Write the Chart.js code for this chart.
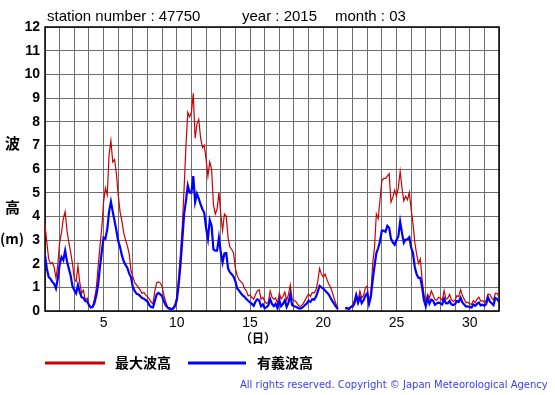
<!DOCTYPE html>
<html>
<head>
<meta charset="utf-8">
<script src="https://cdn.jsdelivr.net/npm/chart.js@4.4.1/dist/chart.umd.min.js"></script>
<style>
  html, body { margin: 0; padding: 0; background: #fff; }
  #wrap { width: 555px; height: 395px; }
</style>
</head>
<body>
<div id="wrap"><canvas id="wave-chart" width="555" height="395"></canvas></div>
<script>
// 3-hourly readings, starting at day 1 00:00, March 2015
const startDay = 1;
const stepsPerDay = 8;

const maxWave = [
  3.65, 2.9, 2.2, 2.0, 2.05, 1.85, 1.4, 1.95,
  2.9, 3.3, 3.9, 4.2, 3.4, 2.9, 2.5, 2.0,
  1.35, 1.25, 1.9, 1.2, 0.75, 0.88, 0.45, 0.55,
  0.25, 0.15, 0.2, 0.5, 0.95, 1.85, 2.7, 3.5,
  4.6, 5.2, 4.9, 6.6, 7.2, 6.3, 6.4, 5.8,
  4.9, 4.2, 3.8, 3.3, 3.0, 2.75, 2.4, 1.7,
  1.45, 1.2, 1.1, 1.0, 0.88, 0.75, 0.78, 0.68,
  0.6, 0.5, 0.38, 0.3, 0.85, 1.2, 1.23, 1.18,
  1.02, 0.65, 0.38, 0.17, 0.14, 0.1, 0.16, 0.28,
  0.6, 1.45, 2.45, 3.6, 5.2, 7.0, 8.4, 8.2,
  8.4, 9.2, 7.3, 7.9, 8.1, 7.3, 6.9, 7.0,
  6.4, 5.7, 6.3, 6.0, 4.5, 4.1, 4.3, 5.0,
  4.1, 3.4, 4.1, 4.0, 3.1, 2.7, 2.6, 2.45,
  1.8, 1.5, 1.32, 1.24, 1.16, 0.95, 0.85, 0.64,
  0.68, 0.58, 0.5, 0.7, 0.85, 0.9, 0.5, 0.58,
  0.4, 0.32, 0.38, 0.85, 0.58, 0.5, 0.55, 0.33,
  0.75, 0.5, 0.62, 0.8, 0.45, 0.7, 1.1, 0.5,
  0.45, 0.4, 0.28, 0.2, 0.22, 0.3, 0.45, 0.6,
  0.72, 0.62, 0.78, 0.76, 0.88, 1.25, 1.8, 1.55,
  1.44, 1.56, 1.33, 1.14, 1.0, 0.78, 0.52, 0.3,
  0.14, null, null, null, 0.12, 0.15, 0.1, 0.18,
  0.26, 0.45, 0.73, 0.45, 0.85, 0.55, 0.65, 0.98,
  1.05, 0.42, 0.73, 2.0, 2.7, 4.1, 3.9, 4.7,
  5.5, 5.6, 5.6, 5.7, 5.8, 4.6, 4.8, 5.1,
  4.85, 5.2, 5.9, 5.2, 4.65, 4.85, 4.7, 5.0,
  4.3, 3.7, 2.9, 2.4, 2.0, 2.2, 1.35, 0.7,
  0.4, 0.7, 0.55, 0.85, 0.68, 0.48, 0.45, 0.58,
  0.54, 0.45, 0.86, 0.5, 0.54, 0.7, 0.48, 0.4,
  0.46, 0.65, 0.6, 0.9, 0.65, 0.5, 0.35, 0.37,
  0.3, 0.28, 0.44, 0.35, 0.5, 0.58, 0.42, 0.44,
  0.36, 0.45, 0.72, 0.7, 0.55, 0.46, 0.75, 0.74,
  0.6
];

const sigWave = [
  2.36, 1.8, 1.44, 1.36, 1.23, 1.15, 0.95, 1.38,
  1.95, 2.28, 2.15, 2.55, 2.1, 1.8, 1.5, 1.05,
  0.88, 0.75, 1.1, 0.8, 0.58, 0.55, 0.42, 0.4,
  0.26, 0.15, 0.17, 0.33, 0.65, 1.1, 1.85, 2.5,
  3.1, 3.05, 3.45, 4.2, 4.62, 4.2, 3.8, 3.4,
  2.95, 2.7, 2.35, 2.1, 1.95, 1.82, 1.58, 1.42,
  1.0, 0.85, 0.73, 0.7, 0.63, 0.55, 0.52, 0.46,
  0.4, 0.24, 0.17, 0.15, 0.42, 0.7, 0.76, 0.7,
  0.62, 0.4, 0.24, 0.14, 0.1, 0.07, 0.1, 0.2,
  0.45, 1.1, 1.95, 3.0, 4.1, 4.65, 5.3, 5.0,
  5.0, 5.7, 4.6, 4.95, 4.75, 4.5, 4.3, 4.15,
  3.5, 3.05, 3.84, 3.6, 2.6, 2.55, 2.55, 3.1,
  2.5, 2.05, 2.43, 2.45, 1.8, 1.64, 1.55, 1.45,
  1.25, 0.95, 0.86, 0.75, 0.66, 0.6, 0.51, 0.43,
  0.36, 0.3, 0.22, 0.4, 0.5, 0.45, 0.2, 0.28,
  0.12, 0.16, 0.24, 0.5, 0.3, 0.2, 0.3, 0.12,
  0.45, 0.2, 0.3, 0.45, 0.17, 0.35, 0.7, 0.25,
  0.2, 0.18, 0.14, 0.1, 0.12, 0.17, 0.25, 0.32,
  0.44, 0.38, 0.5, 0.48, 0.6, 0.82, 1.06, 1.0,
  0.95, 0.87, 0.78, 0.7, 0.55, 0.42, 0.3, 0.17,
  0.08, null, null, null, 0.1, 0.12, 0.08, 0.17,
  0.18, 0.3, 0.66, 0.35, 0.58, 0.33, 0.45, 0.64,
  0.75, 0.3, 0.6, 1.3, 1.9, 2.45, 2.65, 2.95,
  3.4, 3.4, 3.35, 3.6, 3.52, 3.05, 2.9, 2.8,
  3.0, 3.15, 3.77, 3.3, 2.88, 3.02, 3.03, 3.12,
  2.68, 2.45, 1.86, 1.55, 1.4, 1.4, 1.0, 0.45,
  0.2, 0.55, 0.31, 0.48, 0.43, 0.26, 0.32, 0.36,
  0.32, 0.28, 0.52, 0.33, 0.32, 0.42, 0.28, 0.25,
  0.3, 0.42, 0.38, 0.56, 0.36, 0.27, 0.19, 0.2,
  0.16, 0.15, 0.28, 0.22, 0.3, 0.36, 0.24, 0.27,
  0.22, 0.3, 0.58, 0.4, 0.33, 0.25, 0.55, 0.5,
  0.38
];

const seriesLabels = ['最大波高', '有義波高'];
const dayLabels = [5, 10, 15, 20, 25, 30];

const toPoints = arr => arr.map((v, i) => ({ x: startDay + i / stepsPerDay, y: v }));

const sans = '"Liberation Sans", Arial, sans-serif';
const cjk = '"Noto Sans CJK JP", sans-serif';

// texts and frame around the plot
const decorations = {
  id: 'decorations',
  beforeDatasetsDraw(chart) {
    const { ctx, chartArea: a } = chart;
    ctx.save();
    ctx.strokeStyle = '#000';
    ctx.lineWidth = 1.5;
    ctx.strokeRect(a.left, a.top, a.right - a.left, a.bottom - a.top);
    ctx.restore();
  },
  afterDraw(chart) {
    const { ctx } = chart;
    ctx.save();
    ctx.fillStyle = '#000';
    ctx.textBaseline = 'alphabetic';
    ctx.textAlign = 'left';
    ctx.font = '15px ' + sans;
    ctx.fillText('station number : 47750', 47, 21, 164);
    ctx.fillText('year : 2015', 242, 21, 79);
    ctx.fillText('month : 03', 335, 21, 75);

    ctx.textBaseline = 'middle';
    ctx.font = 'bold 15px ' + cjk;
    ctx.fillText('波', 5, 143);
    ctx.fillText('高', 5, 207);
    ctx.font = 'bold 14px ' + cjk;
    ctx.fillText('(m)', 0, 239);
    ctx.textAlign = 'center';
    ctx.font = 'bold 12px ' + cjk;
    ctx.fillText('（日）', 258, 338);

    // legend
    ctx.textAlign = 'left';
    ctx.lineWidth = 3;
    ctx.strokeStyle = '#cc0000';
    ctx.beginPath(); ctx.moveTo(45, 363); ctx.lineTo(105, 363); ctx.stroke();
    ctx.strokeStyle = '#0000ff';
    ctx.beginPath(); ctx.moveTo(188, 363); ctx.lineTo(246, 363); ctx.stroke();
    ctx.font = 'bold 14px ' + cjk;
    ctx.fillText(seriesLabels[0], 115, 363);
    ctx.fillText(seriesLabels[1], 257, 363);

    ctx.fillStyle = '#3a3aff';
    ctx.font = '10px "DejaVu Sans", sans-serif';
    ctx.fillText('All rights reserved. Copyright \u00a9 Japan Meteorological Agency', 240, 385, 309);
    ctx.restore();
  }
};

const chart = new Chart(document.getElementById('wave-chart').getContext('2d'), {
  type: 'line',
  data: {
    datasets: [
      {
        label: seriesLabels[0],
        data: toPoints(maxWave),
        borderColor: '#cc0000',
        borderWidth: 1.2,
        pointRadius: 0,
        tension: 0,
        spanGaps: false,
        order: 1
      },
      {
        label: seriesLabels[1],
        data: toPoints(sigWave),
        borderColor: '#0000ff',
        borderWidth: 2.2,
        pointRadius: 0,
        tension: 0,
        spanGaps: false,
        order: 0
      }
    ]
  },
  options: {
    responsive: false,
    animation: false,
    events: [],
    layout: { padding: { left: 0, top: 27, right: 56, bottom: 0 } },
    plugins: {
      legend: { display: false },
      tooltip: { enabled: false }
    },
    scales: {
      x: {
        type: 'linear',
        min: 1,
        max: 32,
        afterFit: s => { s.height = 84; },
        afterBuildTicks: s => {
          const t = [];
          for (let d = 1; d <= 32; d++) t.push({ value: d });
          s.ticks = t;
        },
        ticks: {
          autoSkip: false,
          maxRotation: 0,
          padding: 4,
          color: '#000',
          font: { family: sans, size: 14 },
          callback: v => (dayLabels.includes(v) ? String(v) : '')
        },
        grid: { color: '#6e6e6e', lineWidth: 1, drawTicks: false },
        border: { display: false }
      },
      y: {
        min: 0,
        max: 12,
        afterFit: s => { s.width = 45; },
        ticks: {
          stepSize: 1,
          padding: 5,
          color: '#000',
          font: { family: sans, size: 14, weight: 'bold' }
        },
        grid: { color: '#6e6e6e', lineWidth: 1, drawTicks: false },
        border: { display: false }
      }
    }
  },
  plugins: [decorations]
});
</script>
</body>
</html>
